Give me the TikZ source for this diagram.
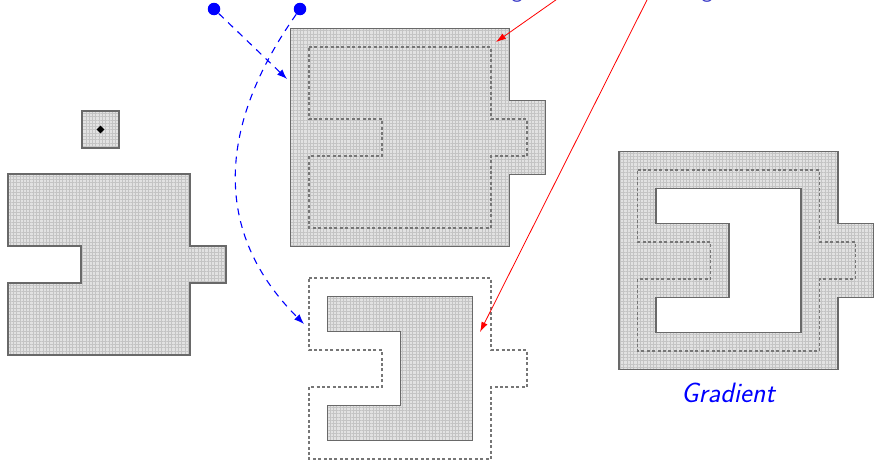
\documentclass[tikz,border=0pt]{standalone}
\usetikzlibrary{arrows.meta,patterns.meta,shapes.geometric}
\newcommand{\Porig}{(0,0) -- (182,0) -- (182,72) -- (218,72) -- (218,109) -- (182,109) -- (182,181) -- (0,181) -- (0,109) -- (73,109) -- (73,72) -- (0,72) -- cycle}
\newcommand{\Pdil}{(-18.5,-18.5) -- (200.5,-18.5) -- (200.5,53.5) -- (236.5,53.5) -- (236.5,127.5) -- (200.5,127.5) -- (200.5,199.5) -- (-18.5,199.5) -- cycle}
\newcommand{\Pero}{(18.5,18.5) -- (163.5,18.5) -- (163.5,162.5) -- (18.5,162.5) -- (18.5,127.5) -- (91.5,127.5) -- (91.5,53.5) -- (18.5,53.5) -- cycle}
\newcommand{\Pse}{(0,0) rectangle (37,37)}
\newcommand{\blk}[2]{\fill[shapefill,#1] #2; \fill[gridpat,#1] #2; \draw[border,#1] #2;}
\tikzset{
 shapefill/.style={fill={rgb,255:red,226;green,226;blue,226}},
 gridpat/.style={pattern={Hatch[angle=0,distance=3.3pt,line width=0.5pt]},pattern color={rgb,255:red,196;green,196;blue,196}},
 border/.style={draw={rgb,255:red,105;green,105;blue,105},line width=1.8pt,line join=miter},
 origline/.style={draw={rgb,255:red,118;green,118;blue,118},line width=1.8pt,dash pattern=on 3pt off 2.4pt},
 bluearrow/.style={draw=blue,line width=1.1pt,dash pattern=on 7pt off 6pt,-{Latex[length=10pt,width=7.5pt]}},
 redarrow/.style={draw=red,line width=0.8pt,-{Latex[length=10pt,width=6.5pt]}},
 bluedot/.style={circle,fill=blue,inner sep=0pt,minimum size=12.5pt},
 lbl/.style={text=blue,font=\fontsize{28}{34}\selectfont\sffamily\itshape},
 toplbl/.style={text={rgb,255:red,60;green,60;blue,200},font=\fontsize{24}{30}\selectfont\sffamily},
}
\begin{document}
\begin{tikzpicture}[x=1pt,y=-1pt]
\useasboundingbox (0,0) rectangle (874,463);
\fill[white] (0,0) rectangle (874,463);
\begin{scope}
\clip (0,0) rectangle (874,463);
% top texts (cut by the frame, as in the reference)
\node[toplbl,anchor=base,inner sep=0pt] (txta) at (517,-2) {g};
\node[toplbl,anchor=base,inner sep=0pt] (txtb) at (707,-2) {g};
% image and structuring element
\blk{shift={(82,111)}}{\Pse}
\node[diamond,fill=black,inner sep=0pt,minimum size=8pt] (sec) at (100.5,129.5) {};
\blk{shift={(8,174)}}{\Porig}
% dilation
\blk{shift={(309,47)}}{\Pdil}
\draw[origline,shift={(309,47)}] \Porig;
% erosion
\draw[origline,shift={(309,278)}] \Porig;
\blk{shift={(309,278)}}{\Pero}
% gradient
\blk{shift={(637.5,170)},even odd rule}{\Pdil \Pero}
\draw[origline,shift={(637.5,170)}] \Porig;
\node[lbl] (grad) at (728,393) {Gradient};
% blue arrows
\node[bluedot] (d1) at (214,9) {};
\node[bluedot] (d2) at (300,9) {};
\coordinate (t1) at (287,79);
\coordinate (t2) at (304,324);
\draw[bluearrow] (d1) -- (t1);
\draw[bluearrow] (d2) .. controls (225,115) and (205,225) .. (t2);
% red arrows
\coordinate (r1s) at (570,-10);
\coordinate (r1e) at (496,42);
\coordinate (r2s) at (652,-10);
\coordinate (r2e) at (480,332);
\draw[redarrow] (r1s) -- (r1e);
\draw[redarrow] (r2s) -- (r2e);
\end{scope}
\end{tikzpicture}
\end{document}
